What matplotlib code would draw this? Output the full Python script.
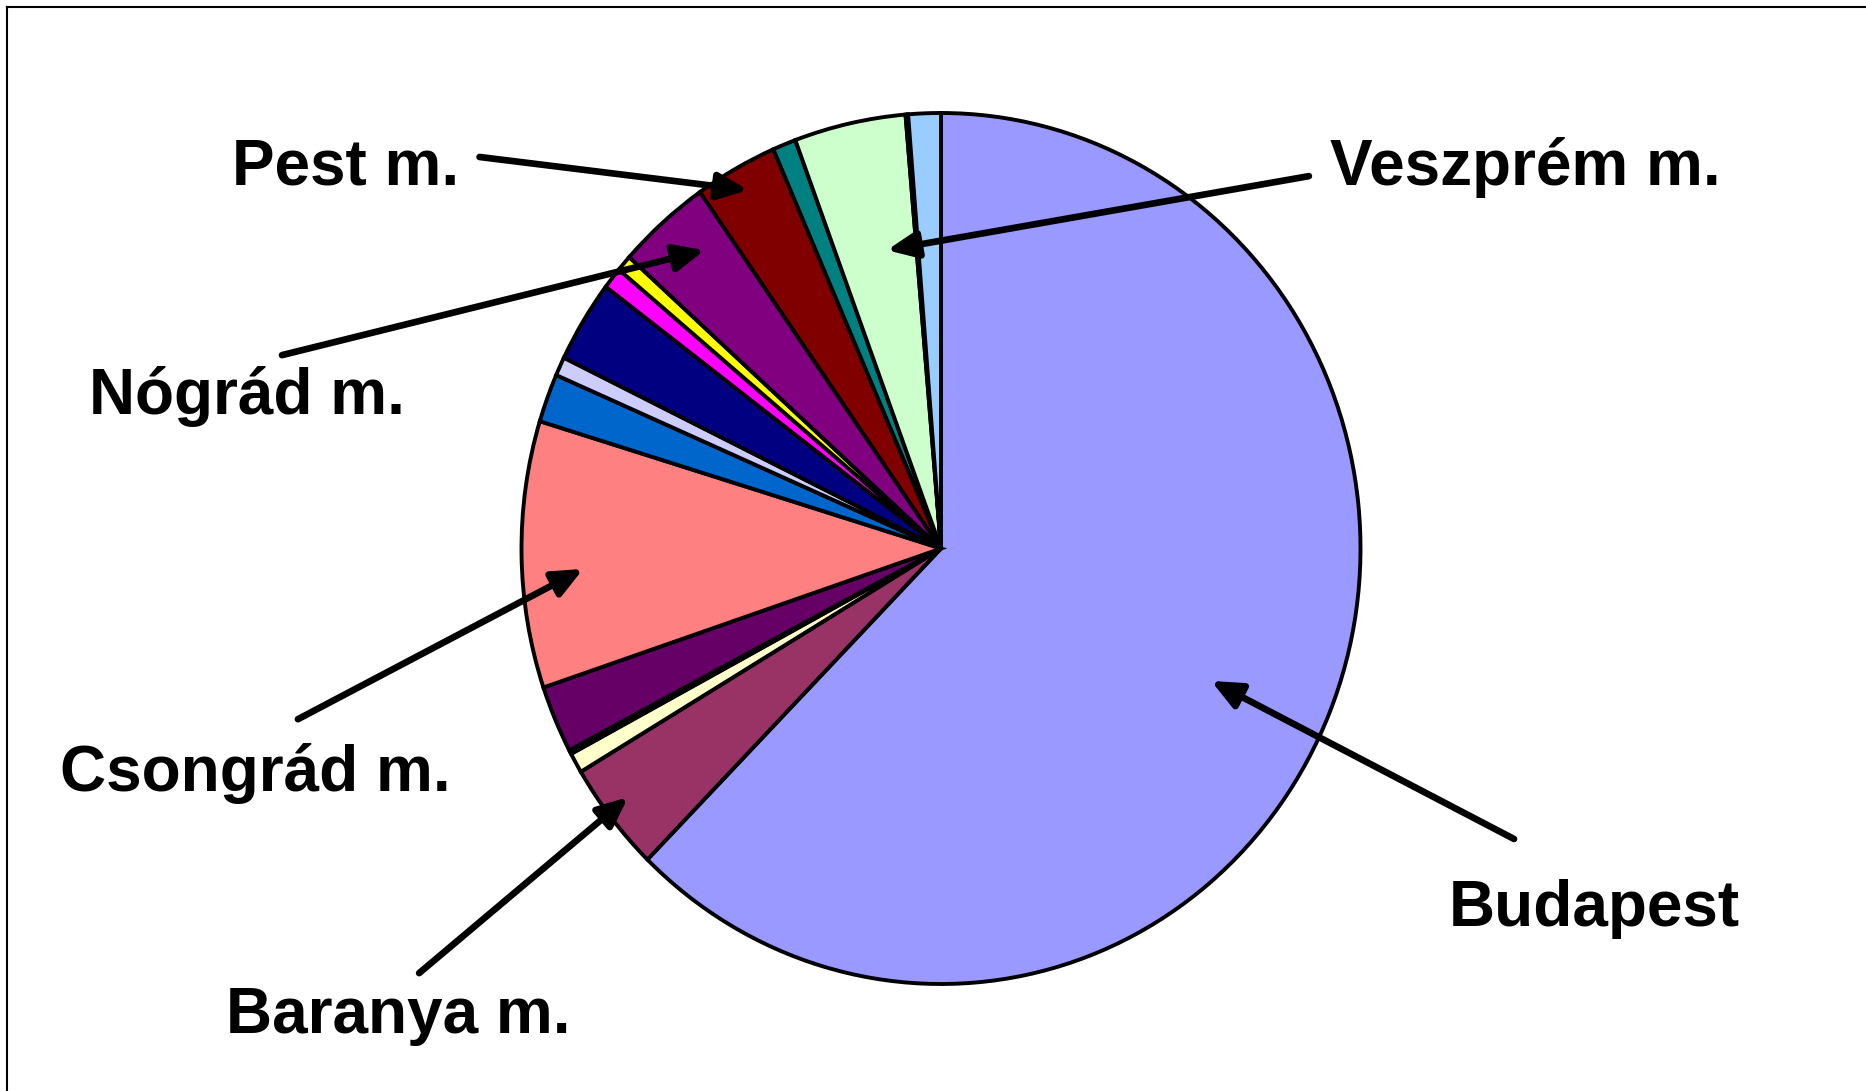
import matplotlib
matplotlib.use("Agg")
import matplotlib.pyplot as plt
from matplotlib.lines import Line2D

# shares, clockwise from 12 o'clock
names = ["Budapest", "Baranya m.", "", "", "", "Csongrád m.", "", "", "",
         "", "", "Nógrád m.", "Pest m.", "", "Veszprém m.", "", ""]
values = [62.4, 4.1, 0.75, 0.15, 2.5, 9.9, 1.8, 0.7, 3.05,
          0.8, 0.6, 3.6, 3.2, 0.9, 4.3, 0.1, 1.25]
colors = ["#9999FF", "#993366", "#FFFFCC", "#CCFFFF", "#660066", "#FF8080",
          "#0066CC", "#CCCCFF", "#000080", "#FF00FF", "#FFFF00", "#800080",
          "#800000", "#008080", "#CCFFCC", "#00FFFF", "#99CCFF"]

# label text position, arrow tail, arrow head (pie units)
label_pos = {
    "Pest m.": ((-1.69, 0.835), (-1.10, 0.899), (-0.46, 0.823)),
    "Veszprém m.": ((0.927, 0.835), (0.877, 0.855), (-0.129, 0.685)),
    "Nógrád m.": ((-2.03, 0.309), (-1.571, 0.444), (-0.563, 0.685)),
    "Csongrád m.": ((-2.10, -0.557), (-1.533, -0.392), (-0.853, -0.047)),
    "Baranya m.": ((-1.704, -1.112), (-1.244, -0.975), (-0.746, -0.571)),
    "Budapest": ((1.211, -0.867), (1.366, -0.667), (0.644, -0.304)),
}

W, H = 1866, 1091
fig = plt.figure(figsize=(W / 100, H / 100), dpi=100)
ax = fig.add_axes([0, 0, 1, 1])

ax.pie(values, colors=colors, startangle=90, counterclock=False,
       wedgeprops=dict(edgecolor="black", linewidth=2.8))

# pie is a bit taller than wide in the original
cx, cy, rx, ry = 941, 548.5, 419.5, 435.5
ax.set_aspect("auto")
ax.set_xlim(-cx / rx, (W - cx) / rx)
ax.set_ylim((cy - H) / ry, cy / ry)
ax.axis("off")

for name, (txt, tail, head) in label_pos.items():
    ax.text(txt[0], txt[1], name, fontsize=46, fontweight="bold",
            family="Liberation Sans", va="baseline", ha="left")
    ax.annotate("", xy=head, xytext=tail,
                arrowprops=dict(arrowstyle="-|>,head_length=0.9,head_width=0.4",
                                mutation_scale=20, lw=4.8, color="black",
                                shrinkA=0, shrinkB=0))

# slide frame
fig.add_artist(Line2D([7 / W, 7 / W], [0, 1 - 7 / H], transform=fig.transFigure,
                      color="black", lw=1.5))
fig.add_artist(Line2D([7 / W, 1], [1 - 7 / H, 1 - 7 / H], transform=fig.transFigure,
                      color="black", lw=1.5))

fig.savefig("out.png", dpi=100)
